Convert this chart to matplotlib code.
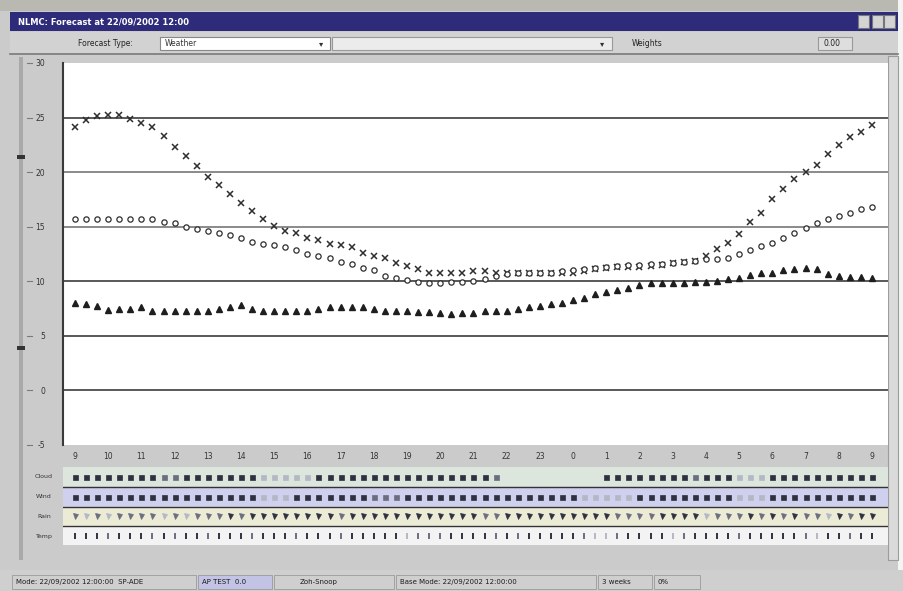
import matplotlib.pyplot as plt
from matplotlib.patches import Rectangle

W, H = 904, 591

# time axis: 20-minute steps, labelled every hour
hours = [9, 10, 11, 12, 13, 14, 15, 16, 17, 18, 19, 20, 21, 22, 23,
         0, 1, 2, 3, 4, 5, 6, 7, 8, 9]
y_ticks = [30, 25, 20, 15, 10, 5, 0, -5]

temp_max = [24.1, 24.8, 25.1, 25.2, 25.2, 24.9, 24.5, 24.1, 23.3, 22.3,
            21.5, 20.6, 19.6, 18.8, 18.0, 17.2, 16.4, 15.7, 15.1, 14.6,
            14.4, 14.0, 13.8, 13.4, 13.3, 13.1, 12.6, 12.3, 12.1, 11.7,
            11.4, 11.1, 10.8, 10.8, 10.8, 10.8, 10.9, 10.9, 10.8, 10.8,
            10.8, 10.8, 10.8, 10.8, 10.8, 10.8, 10.9, 11.1, 11.2, 11.3,
            11.3, 11.3, 11.4, 11.5, 11.7, 11.8, 11.9, 12.3, 13.0, 13.5,
            14.3, 15.4, 16.3, 17.5, 18.5, 19.4, 20.0, 20.7, 21.7, 22.5,
            23.2, 23.7, 24.3]
temp_mid = [15.7, 15.7, 15.7, 15.7, 15.7, 15.7, 15.7, 15.7, 15.4, 15.3,
            15.0, 14.8, 14.6, 14.4, 14.2, 14.0, 13.6, 13.4, 13.3, 13.1,
            12.9, 12.5, 12.3, 12.1, 11.8, 11.6, 11.2, 11.0, 10.5, 10.3,
            10.1, 9.9, 9.8, 9.8, 9.9, 9.9, 10.0, 10.2, 10.5, 10.7,
            10.8, 10.8, 10.8, 10.8, 10.9, 11.0, 11.1, 11.2, 11.3, 11.4,
            11.5, 11.5, 11.6, 11.6, 11.7, 11.8, 11.9, 12.0, 12.0, 12.1,
            12.5, 12.9, 13.2, 13.5, 14.0, 14.4, 14.9, 15.3, 15.7, 16.0,
            16.3, 16.6, 16.8]
temp_min = [8.0, 7.9, 7.7, 7.4, 7.5, 7.5, 7.6, 7.3, 7.3, 7.3,
            7.3, 7.3, 7.3, 7.5, 7.6, 7.8, 7.5, 7.3, 7.3, 7.3,
            7.3, 7.3, 7.5, 7.6, 7.6, 7.6, 7.6, 7.5, 7.3, 7.3,
            7.3, 7.2, 7.2, 7.1, 7.0, 7.1, 7.1, 7.3, 7.3, 7.3,
            7.5, 7.6, 7.7, 7.9, 8.0, 8.3, 8.5, 8.8, 9.0, 9.2,
            9.4, 9.7, 9.8, 9.8, 9.8, 9.8, 9.9, 9.9, 10.0, 10.2,
            10.3, 10.6, 10.8, 10.8, 11.0, 11.1, 11.2, 11.1, 10.7, 10.5,
            10.4, 10.4, 10.3]

# symbol strips under the chart, one shade level (0-3) per time step
row_names = ["Cloud", "Wind", "Rain", "Temp"]
cloud_sym = ("33333333223333333" "11111" "33333333333333332"
             "000000000" "333333332333" "111" "3333333333")
wind_sym = ("33333333333333333" "111" "3333333" "222" "3333333333333333"
            "11111" "333333333" "111" "3333333333")
rain_sym = ("2121222212122232" "333333332333333333333"
            "2233333333332222" "33331222323232213233")
temp_sym = ("3332333232332333233323332" "333331222333323233333211"
            "233331233332333332133233")

fig = plt.figure(figsize=(W / 100, H / 100), dpi=100, facecolor="#cbcbcb")

# full-figure layer in pixel units for the window frame
bg = fig.add_axes([0, 0, 1, 1])
bg.set_xlim(0, W)
bg.set_ylim(H, 0)
bg.axis("off")


def box(x0, y0, x1, y1, fc, ec="none", lw=0.8, z=1):
    bg.add_patch(Rectangle((x0, y0), x1 - x0, y1 - y0, fc=fc, ec=ec, lw=lw, zorder=z))


def frac(x0, y0, x1, y1):
    return [x0 / W, 1 - y1 / H, (x1 - x0) / W, (y1 - y0) / H]


box(0, 0, W, 11, "#b9b9b2")
box(898, 0, W, H, "#f4f4f4")
# title bar
box(10, 12, 898, 31, "#2d2b7a")
bg.text(18, 22, "NLMC: Forecast at 22/09/2002 12:00", color="white", fontsize=6,
        fontweight="bold", va="center")
for bx in (858, 872, 884):
    box(bx, 15, bx + 11, 28, "#d4d4d4", ec="#777777", z=2)
# toolbar
box(10, 32, 898, 53, "#d2d2d2")
bg.text(78, 43, "Forecast Type:", fontsize=5.5, va="center", color="#222222")
box(160, 37, 330, 50, "white", ec="#888888")
bg.text(165, 43.5, "Weather", fontsize=5.5, va="center", color="#333333")
bg.text(321, 43.5, "▾", fontsize=6, va="center", ha="center", color="#333333")
box(332, 37, 612, 50, "#ececec", ec="#999999")
bg.text(602, 43.5, "▾", fontsize=6, va="center", ha="center", color="#333333")
bg.text(632, 43.5, "Weights", fontsize=5.5, va="center", color="#222222")
box(818, 37, 852, 50, "#dedede", ec="#999999")
bg.text(824, 43.5, "0.00", fontsize=5.5, va="center", color="#222222")
bg.plot([10, 898], [54, 54], color="#7a7a7a", lw=1.2)
# left slider groove
box(19, 57, 23, 560, "#a9a9a9")
for sy in (157, 348):
    box(17, sy - 2, 25, sy + 2, "#333333", z=2)
# right scrollbar
box(888, 56, 898, 560, "#dadada", ec="#9c9c9c")
# y tick dashes left of the labels
for v in y_ticks:
    ty = 445 - (v + 5) * 382 / 35
    bg.plot([27, 32], [ty, ty], color="#7a7a7a", lw=0.8)
# status bar
box(0, 570, W, H, "#cfcfcf")
panels = [(12, 196, "Mode: 22/09/2002 12:00:00  SP-ADE", "#cfcfcf"),
          (198, 272, "AP TEST  0.0", "#c3c3e6"),
          (274, 394, "Zoh-Snoop", "#cfcfcf"),
          (396, 596, "Base Mode: 22/09/2002 12:00:00", "#cfcfcf"),
          (598, 652, "3 weeks", "#cfcfcf"),
          (654, 700, "0%", "#cfcfcf")]
for x0, x1, label, fc in panels:
    box(x0, 575, x1, 589, fc, ec="#9a9a9a", lw=0.6)
    bg.text(x0 + (26 if label == "Zoh-Snoop" else 4), 582, label, fontsize=5,
            va="center", color="#1c1c1c")

# main chart
ax = fig.add_axes(frac(63, 63, 888, 445))
x = list(range(len(temp_max)))
ax.set_xlim(-1.08, 73.45)
ax.set_ylim(-5, 30)
for v in (25, 10, 5, 0):
    ax.axhline(v, color="#3c3c3c", lw=1.2, zorder=1)
for v in (20, 15):
    ax.axhline(v, color="#8a8a8a", lw=1.4, zorder=1)
ax.plot(x, temp_max, ls="none", marker="x", ms=4.6, mew=1.1, color="#2e2e2e", zorder=3)
ax.plot(x, temp_mid, ls="none", marker="o", ms=3.8, mew=0.9, mfc="white",
        mec="#2e2e2e", zorder=3)
ax.plot(x, temp_min, ls="none", marker="^", ms=4.2, color="#1e1e1e", zorder=3)
ax.set_yticks(y_ticks)
ax.set_yticklabels([str(v) for v in y_ticks], fontsize=5.5, color="#333333")
ax.set_xticks(range(0, 73, 3))
ax.set_xticklabels([str(h) for h in hours], fontsize=5.5, color="#333333")
ax.tick_params(axis="y", length=0, pad=13)
ax.tick_params(axis="x", length=0, pad=5)
for side in ("top", "right", "bottom"):
    ax.spines[side].set_visible(False)
ax.spines["left"].set_color("#3a3a3a")
ax.spines["left"].set_linewidth(1.5)
ax.set_facecolor("white")

# symbol strips
sx = fig.add_axes(frac(63, 467, 888, 546))
sx.set_xlim(-1.08, 73.45)
sx.set_ylim(4, 0)
sx.axis("off")
row_bg = ["#dde6dc", "#cfd0ee", "#ecebd6", "#f3f3f3"]
row_marker = ["s", "s", "v", "|"]
shades = {1: "#b4b8c4", 2: "#6c6e80", 3: "#2f3140"}
for r, (syms, fc, mk) in enumerate(zip([cloud_sym, wind_sym, rain_sym, temp_sym],
                                       row_bg, row_marker)):
    sx.axhspan(r, r + 1, color=fc, zorder=0)
    for i, s in enumerate(syms):
        lvl = int(s)
        if lvl:
            sx.plot(i, r + 0.5, ls="none", marker=mk, ms=3.6 if mk != "|" else 5,
                    mew=1.4 if mk == "|" else 0.5, color=shades[lvl], zorder=2)
for r in (1, 2, 3, 4):
    sx.axhline(r, color="#333333", lw=1.0, zorder=1)
for r, name in enumerate(row_names):
    bg.text(44, 467 + (r + 0.5) * 79 / 4, name, fontsize=4.5, ha="center",
            va="center", color="#333333")

fig.savefig("out.png", dpi=100, facecolor=fig.get_facecolor())
